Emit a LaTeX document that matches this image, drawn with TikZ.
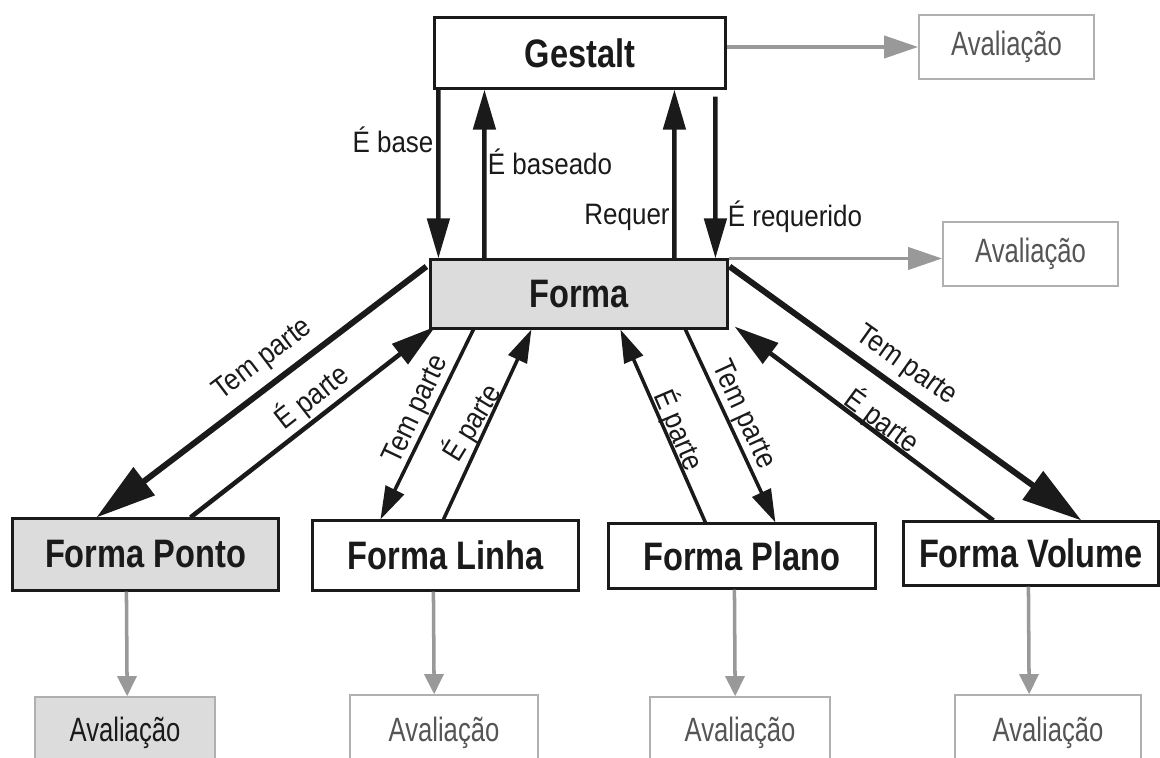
\documentclass[tikz,border=0pt]{standalone}
\usepackage{fontspec}
\setmainfont{Liberation Sans}
\newfontfamily\boxfont[FakeStretch=0.82]{Liberation Sans}
\newfontfamily\avalfont[FakeStretch=0.76]{Liberation Sans}
\newfontfamily\labfont[FakeStretch=0.88]{Liberation Sans}
\usetikzlibrary{arrows.meta,calc}
\definecolor{boxgray}{HTML}{DCDCDC}
\definecolor{arrgray}{HTML}{999999}
\definecolor{avalborder}{HTML}{B0B0B0}
\definecolor{avaltext}{HTML}{555555}
\definecolor{ink}{HTML}{1A1A1A}
\begin{document}
\begin{tikzpicture}[x=0.01cm,y=-0.01cm,
  mainbox/.style={draw=ink,line width=0.85pt,inner sep=0pt,text=ink,
    font=\boxfont\bfseries\fontsize{11.3}{12}\selectfont},
  grayfill/.style={fill=boxgray},
  aval/.style={draw=avalborder,line width=0.45pt,inner sep=0pt,text=avaltext,
    font=\avalfont\fontsize{9.6}{11}\selectfont},
  lab/.style={font=\labfont\fontsize{8.4}{10}\selectfont,inner sep=0pt,text=ink},
  arrV/.style={draw=ink,line width=1.3pt,-{Triangle[length=0.4cm,width=0.22cm]}},
  thickT/.style={draw=ink,line width=1.7pt,-{Triangle[length=0.6cm,width=0.34cm]}},
  medP/.style={draw=ink,line width=1.3pt,-{Triangle[length=0.45cm,width=0.25cm]}},
  thinA/.style={draw=ink,line width=1pt,-{Triangle[length=0.33cm,width=0.2cm]}},
  garr/.style={color=arrgray,line width=1.1pt,-{Triangle[length=0.34cm,width=0.22cm]}},
  garrs/.style={color=arrgray,line width=1pt,-{Triangle[length=0.2cm,width=0.19cm]}}]
\useasboundingbox (0,0) rectangle (1160,758);
\clip (0,0) rectangle (1160,758);

% main boxes
\node[mainbox,minimum width=2.9cm,minimum height=0.7cm] (gestalt) at (580,53) {Gestalt};
\node[mainbox,grayfill,minimum width=2.96cm,minimum height=0.68cm] (forma) at (579,294) {Forma};
\node[mainbox,grayfill,minimum width=2.65cm,minimum height=0.71cm] (ponto) at (145.5,554.5) {Forma Ponto};
\node[mainbox,minimum width=2.65cm,minimum height=0.69cm] (linha) at (445.5,555.5) {Forma Linha};
\node[mainbox,minimum width=2.66cm,minimum height=0.64cm] (plano) at (742,556) {Forma Plano};
\node[mainbox,minimum width=2.54cm,minimum height=0.63cm] (volume) at (1031,553.5) {Forma Volume};

% evaluation boxes
\node[aval,minimum width=1.75cm,minimum height=0.64cm] (av1) at (1006.5,47) {Avaliação};
\node[aval,minimum width=1.75cm,minimum height=0.64cm] (av2) at (1030.5,254) {Avaliação};
\node[aval,fill=boxgray,text=ink,minimum width=1.8cm,minimum height=0.72cm] (pav) at (125,733) {Avaliação};
\node[aval,minimum width=1.88cm,minimum height=0.76cm] (lav) at (444,733) {Avaliação};
\node[aval,minimum width=1.8cm,minimum height=0.72cm] (plav) at (740,733) {Avaliação};
\node[aval,minimum width=1.86cm,minimum height=0.76cm] (vav) at (1048,733) {Avaliação};

% Gestalt <-> Forma
\draw[arrV] ($(gestalt.south west)+(5,0)$) -- ($(forma.north west)+(9,0)$);
\draw[arrV] ($(forma.north west)+(55,0)$) -- ($(gestalt.south west)+(51,0)$);
\draw[arrV] ($(forma.north west)+(245,0)$) -- ($(gestalt.south west)+(241,0)$);
\draw[arrV] ($(gestalt.south west)+(282,7)$) -- ($(forma.north west)+(286,0)$);
\node[lab] (lbase) at (393,140) {É base};
\node[lab] (lbaseado) at (550,162) {É baseado};
\node[lab] (lrequer) at (627,217) {Requer};
\node[lab] (lrequerido) at (795,217) {É requerido};

% grey arrows to evaluations
\draw[garr] (gestalt.east |- av1.west) -- (av1.west);
\draw[garr] (forma.north east) -- (av2.west |- forma.north east);
\draw[garrs] ($(ponto.south west)+(115,0)$) -- ($(pav.north west)+(93,0)$);
\draw[garrs] ($(linha.south west)+(122,0)$) -- ($(lav.north west)+(85,0)$);
\draw[garrs] ($(plano.south west)+(127,0)$) -- ($(plav.north west)+(86,0)$);
\draw[garrs] ($(volume.south west)+(126,0)$) -- ($(vav.north west)+(75,0)$);

% Forma <-> parts
\draw[thickT] ($(forma.north west)+(-3,8)$) -- ($(ponto.north west)+(85,0)$);
\draw[medP] ($(ponto.north west)+(179,0)$) -- ($(forma.south west)+(6,-3)$);
\draw[thinA] ($(forma.south west)+(44,0)$) -- ($(linha.north west)+(69,0)$);
\draw[thinA] ($(linha.north west)+(132,0)$) -- ($(forma.south west)+(102,0)$);
\draw[thinA] ($(plano.north west)+(98,0)$) -- ($(forma.south west)+(191,0)$);
\draw[thinA] ($(forma.south west)+(256,0)$) -- ($(plano.north west)+(168,0)$);
\draw[thickT] ($(forma.north east)+(1,8)$) -- ($(volume.north west)+(179,0)$);
\draw[medP] ($(volume.north west)+(91,0)$) -- ($(forma.south east)+(6,-3)$);

\node[lab,rotate=37.2] (ltp1) at (263,360) {Tem parte};
\node[lab,rotate=38] (lep1) at (312,397) {É parte};
\node[lab,rotate=64.6] (ltp2) at (417,410) {Tem parte};
\node[lab,rotate=58.4] (lep2) at (472,423) {É parte};
\node[lab,rotate=-66.8] (lep3) at (679,430) {É parte};
\node[lab,rotate=-65.3] (ltp3) at (743,415) {Tem parte};
\node[lab,rotate=-35.4] (ltp4) at (906,366) {Tem parte};
\node[lab,rotate=-36.4] (lep4) at (882,421) {É parte};
\end{tikzpicture}
\end{document}
